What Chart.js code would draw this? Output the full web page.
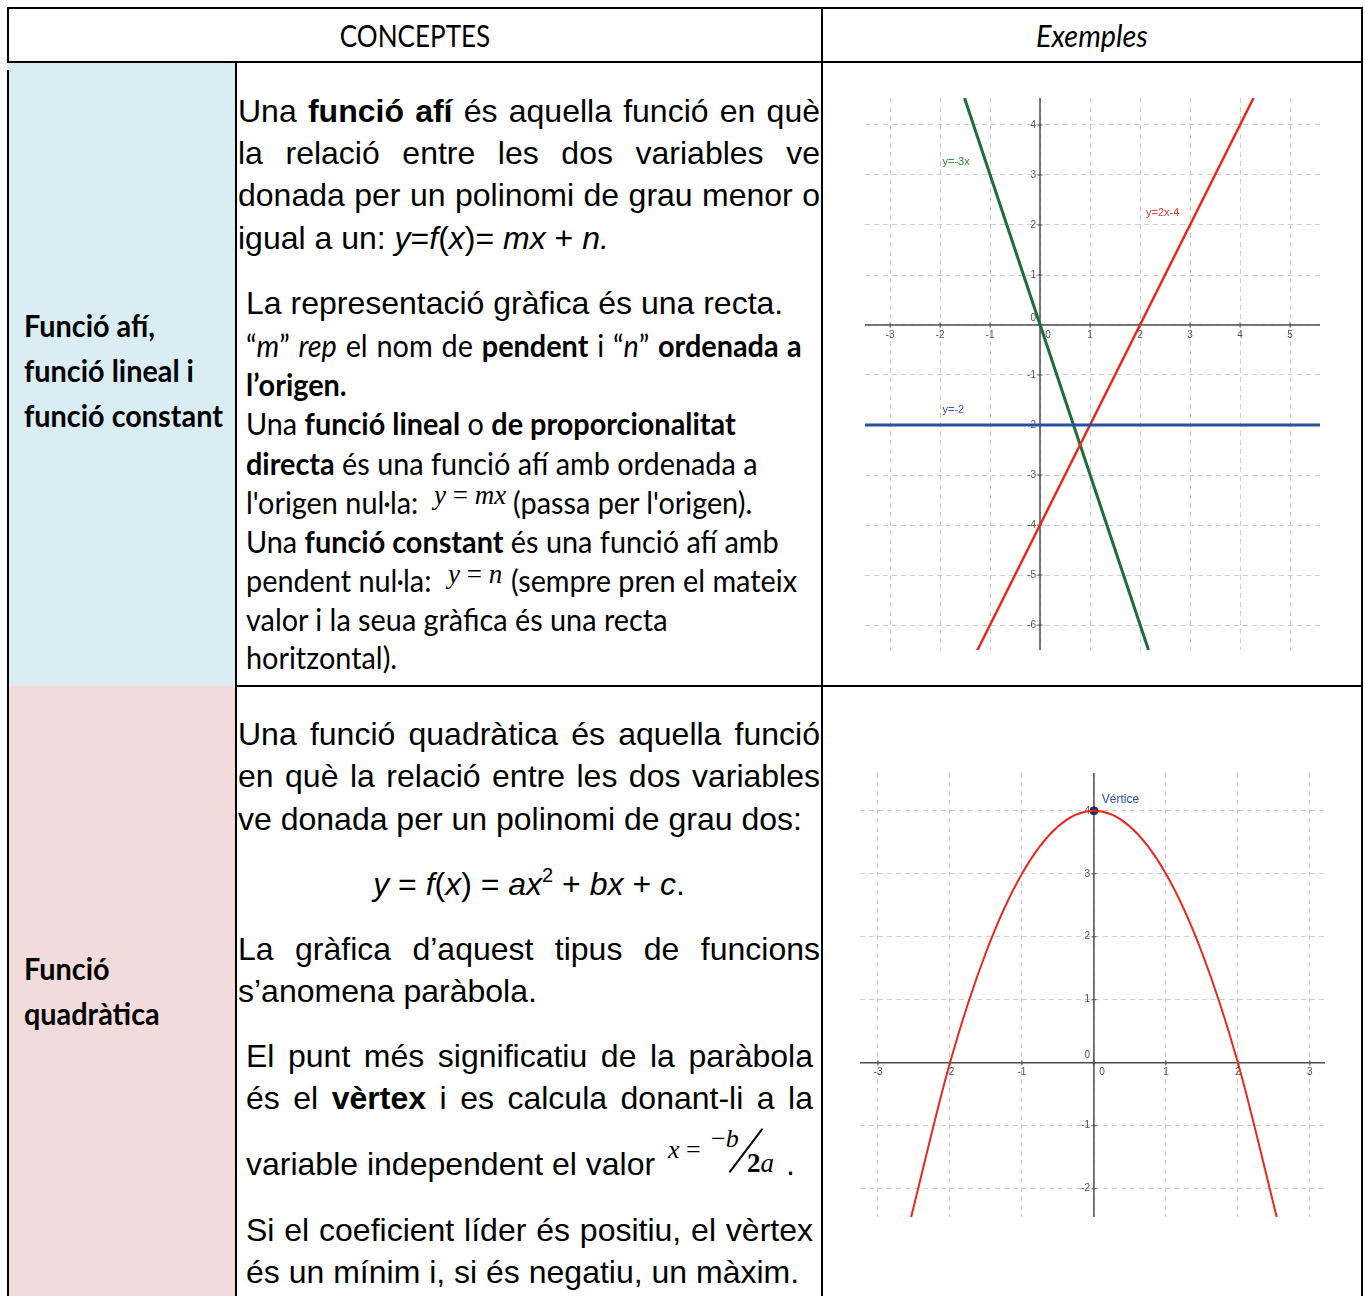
<!DOCTYPE html>
<html>
<head>
<meta charset="utf-8">
<script src="https://cdn.jsdelivr.net/npm/chart.js@4"></script>
<style>
  html, body { margin: 0; padding: 0; background: #fff; }
  body { width: 1365px; height: 1296px; overflow: hidden; position: relative; }
  .ln { position: absolute; white-space: nowrap; color: #000; }
  .ar { font-family: "Liberation Sans", Arial, sans-serif; font-size: 32px; line-height: 42px; }
  .cal { font-family: Lato, sans-serif; font-size: 31px; line-height: 40px; transform-origin: left center; transform: scaleX(0.93); }
  .jus { text-align: justify; text-align-last: justify; white-space: normal; }
  .tm { font-family: "Liberation Serif", "Times New Roman", serif; font-style: italic; position: absolute; white-space: nowrap; line-height: 1; }
  .bar { position: absolute; background: #000; }
  canvas { position: absolute; }
</style>
</head>
<body>
<div id="page"></div>
<canvas id="afi" width="455" height="552" style="left:865px;top:98px"></canvas>
<canvas id="quad" width="465" height="444" style="left:860px;top:773px"></canvas>
<script>
// ---- chart data ----
var afiXTicks = [-3, -2, -1, 0, 1, 2, 3, 4, 5];
var afiYTicks = [-6, -5, -4, -3, -2, -1, 0, 1, 2, 3, 4];
var greenX = [-1.51, 2.17];
var greenY = [4.54, -6.5];
var redX = [-1.27, 4.27];
var redY = [-6.54, 4.54];
var blueX = [-3.5, 5.6];
var blueY = [-2, -2];
var afiLabels = [
  { text: 'y=-3x', x: -1.95, y: 3.26, color: '#2e8b3e' },
  { text: 'y=2x-4', x: 2.12, y: 2.24, color: '#e23a2a' },
  { text: 'y=-2', x: -1.95, y: -1.7, color: '#3a55c0' }
];

var quadXTicks = [-3, -2, -1, 0, 1, 2, 3];
var quadYTicks = [-2, -1, 0, 1, 2, 3, 4];
var parabX = [-2.55, -2, -1.5, -1, -0.5, 0, 0.5, 1, 1.5, 2, 2.55];
var parabY = [-2.5, 0, 1.75, 3, 3.75, 4, 3.75, 3, 1.75, 0, -2.5];
var vertexX = [0];
var vertexY = [4];
var quadLabels = [
  { text: 'Vértice', x: 0.11, y: 4.17, color: '#2d4fa8' }
];

function pts(xs, ys) {
  return xs.map(function (v, i) { return { x: v, y: ys[i] }; });
}

// ---- table text ----
var lines = [
  // [class, left, centerY, width or 0, html, extra style]
  ['cal', 8, 37, 814, 'CONCEPTES', 'text-align:center;transform-origin:center center;transform:scaleX(0.84)'],
  ['cal', 822, 37, 540, '<i>Exemples</i>', 'text-align:center;transform-origin:center center'],

  ['cal', 24, 327, 0, '<b>Funció afí,</b>', ''],
  ['cal', 24, 372, 0, '<b>funció lineal i</b>', ''],
  ['cal', 24, 417, 0, '<b>funció constant</b>', ''],

  ['ar jus', 238, 112, 582, 'Una <b>funció afí</b> és aquella funció en què', ''],
  ['ar jus', 238, 154, 582, 'la relació entre les dos variables ve', ''],
  ['ar jus', 238, 196, 582, 'donada per un polinomi de grau menor o', ''],
  ['ar', 238, 239, 0, 'igual a un: <i>y</i>=<i>f</i>(<i>x</i>)= <i>mx</i> + <i>n.</i>', ''],
  ['ar', 246, 304, 0, 'La representació gràfica és una recta.', ''],

  ['cal', 246, 347, 0, '“<i>m</i>” <i>rep</i> el nom de <b>pendent</b> i “<i>n</i>” <b>ordenada a</b>', 'word-spacing:1.6px'],
  ['cal', 246, 386, 0, '<b>l’origen.</b>', ''],
  ['cal', 246, 425, 0, 'Una <b>funció lineal</b> o <b>de proporcionalitat</b>', ''],
  ['cal', 246, 465, 0, '<b>directa</b> és una funció afí amb ordenada a', ''],
  ['cal', 246, 504, 0, 'l\'origen nul·la:', ''],
  ['cal', 513, 504, 0, '(passa per l\'origen).', ''],
  ['cal', 246, 543, 0, 'Una <b>funció constant</b> és una funció afí amb', ''],
  ['cal', 246, 582, 0, 'pendent nul·la:', ''],
  ['cal', 511, 582, 0, '(sempre pren el mateix', ''],
  ['cal', 246, 621, 0, 'valor i la seua gràfica és una recta', ''],
  ['cal', 246, 659, 0, 'horitzontal).', ''],

  ['cal', 24, 970, 0, '<b>Funció</b>', ''],
  ['cal', 24, 1015, 0, '<b>quadràtica</b>', ''],

  ['ar jus', 238, 735, 582, 'Una funció quadràtica és aquella funció', ''],
  ['ar jus', 238, 777, 582, 'en què la relació entre les dos variables', ''],
  ['ar', 238, 820, 0, 've donada per un polinomi de grau dos:', ''],
  ['ar', 236, 885, 586, '<i>y</i> = <i>f</i>(<i>x</i>) = <i>ax</i><sup style="font-size:20px;line-height:0;vertical-align:13px">2</sup> + <i>bx</i> + <i>c</i>.', 'text-align:center'],
  ['ar jus', 238, 950, 582, 'La gràfica d’aquest tipus de funcions', ''],
  ['ar', 238, 992, 0, 's’anomena paràbola.', ''],
  ['ar jus', 246, 1057, 567, 'El punt més significatiu de la paràbola', ''],
  ['ar jus', 246, 1099, 567, 'és el <b>vèrtex</b> i es calcula donant-li a la', ''],
  ['ar', 246, 1165, 0, 'variable independent el valor', ''],
  ['ar', 786, 1165, 0, '.', ''],
  ['ar jus', 246, 1231, 567, 'Si el coeficient líder és positiu, el vèrtex', ''],
  ['ar', 246, 1273, 0, 'és un mínim i, si és negatiu, un màxim.', '']
];

var page = document.getElementById('page');

// cell fills
function box(l, t, w, h, bg) {
  var d = document.createElement('div');
  d.style.cssText = 'position:absolute;left:' + l + 'px;top:' + t + 'px;width:' + w + 'px;height:' + h + 'px;background:' + bg;
  page.appendChild(d);
}
box(8, 63, 228, 623, '#daedf3');
box(8, 686, 228, 610, '#f2dcdb');

// borders
function bar(l, t, w, h, extra) {
  var d = document.createElement('div');
  d.className = 'bar';
  d.style.cssText = 'left:' + l + 'px;top:' + t + 'px;width:' + w + 'px;height:' + h + 'px;' + (extra || '');
  page.appendChild(d);
}
bar(7, 7, 1356, 2);
bar(7, 61, 1356, 2);
bar(236, 685, 1127, 2);
bar(7, 7, 2, 56);
bar(7, 70, 2, 1226);
bar(235, 62, 2, 1234);
bar(821, 7, 2, 1289);
bar(1361, 7, 2, 1289);

lines.forEach(function (l) {
  var d = document.createElement('div');
  d.className = 'ln ' + l[0];
  var css = 'left:' + l[1] + 'px;top:' + (l[2] - 22) + 'px;';
  if (l[3]) css += 'width:' + l[3] + 'px;';
  d.style.cssText = css + l[5];
  d.innerHTML = l[4];
  page.appendChild(d);
});

// small serif formulas (top = glyph box top)
function tm(l, t, size, html) {
  var d = document.createElement('div');
  d.className = 'tm';
  d.style.cssText = 'left:' + l + 'px;top:' + t + 'px;font-size:' + size + 'px;';
  d.innerHTML = html;
  page.appendChild(d);
}
var up = '<span style="font-style:normal">=</span>';
tm(434, 482, 27, 'y ' + up + ' mx');
tm(448, 561, 27, 'y ' + up + ' n');
tm(668, 1137, 26, 'x ' + up);
tm(711, 1126, 26, '<span style="font-style:normal">−</span>b');
tm(747, 1150, 27, '<b style="font-style:normal">2</b>a');
bar(745, 1123, 2, 55, 'transform:rotate(37deg);transform-origin:center center');

// ---- axes plugin: axis lines through the origin with GeoGebra style labels ----
var geoAxes = {
  id: 'geoAxes',
  beforeDatasetsDraw: function (chart, args, opts) {
    var ctx = chart.ctx, a = chart.chartArea;
    var xs = chart.scales.x, ys = chart.scales.y;
    var x0 = xs.getPixelForValue(0), y0 = ys.getPixelForValue(0);
    ctx.save();
    ctx.strokeStyle = '#4d4d4d';
    ctx.lineWidth = 1.5;
    ctx.beginPath();
    ctx.moveTo(a.left, y0); ctx.lineTo(a.right, y0);
    ctx.moveTo(x0, a.top); ctx.lineTo(x0, a.bottom);
    ctx.stroke();
    ctx.lineWidth = 1;
    ctx.fillStyle = '#555';
    ctx.font = '10px "Liberation Sans", Arial';
    opts.xTicks.forEach(function (v) {
      var px = xs.getPixelForValue(v);
      ctx.beginPath(); ctx.moveTo(px, y0 - 2.5); ctx.lineTo(px, y0 + 2.5); ctx.stroke();
      ctx.textAlign = 'center'; ctx.textBaseline = 'top';
      ctx.fillText(String(v), v === 0 ? px + 8 : px, y0 + 5);
    });
    opts.yTicks.forEach(function (v) {
      var py = ys.getPixelForValue(v);
      ctx.beginPath(); ctx.moveTo(x0 - 2.5, py); ctx.lineTo(x0 + 2.5, py); ctx.stroke();
      ctx.textAlign = 'right'; ctx.textBaseline = 'middle';
      ctx.fillText(String(v), x0 - 4, v === 0 ? py - 7 : py);
    });
    ctx.restore();
  },
  afterDatasetsDraw: function (chart, args, opts) {
    var ctx = chart.ctx;
    var xs = chart.scales.x, ys = chart.scales.y;
    ctx.save();
    ctx.font = opts.labelFont;
    ctx.textAlign = 'left';
    ctx.textBaseline = 'middle';
    opts.labels.forEach(function (l) {
      ctx.fillStyle = l.color;
      ctx.fillText(l.text, xs.getPixelForValue(l.x), ys.getPixelForValue(l.y));
    });
    ctx.restore();
  }
};

function gridScale(min, max) {
  return {
    type: 'linear', min: min, max: max,
    ticks: { display: false, stepSize: 1, includeBounds: false },
    grid: { color: '#cdcdcd', lineWidth: 1, drawTicks: false },
    border: { display: false, dash: [5, 4] }
  };
}

function lineSet(xs, ys, color, width, extra) {
  var ds = { data: pts(xs, ys), showLine: true, borderColor: color, borderWidth: width, pointRadius: 0, fill: false };
  for (var k in extra) ds[k] = extra[k];
  return ds;
}

new Chart(document.getElementById('afi'), {
  type: 'scatter',
  data: {
    datasets: [
      lineSet(blueX, blueY, '#2c4f9e', 3),
      lineSet(redX, redY, '#e8281e', 2.5),
      lineSet(greenX, greenY, '#1f6e38', 3)
    ]
  },
  options: {
    responsive: false, animation: false,
    layout: { padding: 0, autoPadding: false },
    plugins: {
      legend: { display: false }, tooltip: { enabled: false },
      geoAxes: { xTicks: afiXTicks, yTicks: afiYTicks, labels: afiLabels, labelFont: '11px "Liberation Sans", Arial' }
    },
    scales: { x: gridScale(-3.5, 5.6), y: gridScale(-6.5, 4.54) }
  },
  plugins: [geoAxes]
});

new Chart(document.getElementById('quad'), {
  type: 'scatter',
  data: {
    datasets: [
      lineSet(parabX, parabY, '#e8281e', 2, { cubicInterpolationMode: 'monotone' }),
      { data: pts(vertexX, vertexY), pointRadius: 4, pointBackgroundColor: '#1c2f66', pointBorderColor: '#1c2f66' }
    ]
  },
  options: {
    responsive: false, animation: false,
    layout: { padding: 0, autoPadding: false },
    plugins: {
      legend: { display: false }, tooltip: { enabled: false },
      geoAxes: { xTicks: quadXTicks, yTicks: quadYTicks, labels: quadLabels, labelFont: '12px "Liberation Sans", Arial' }
    },
    scales: { x: gridScale(-3.25, 3.21), y: gridScale(-2.45, 4.6) }
  },
  plugins: [geoAxes]
});
</script>
</body>
</html>
